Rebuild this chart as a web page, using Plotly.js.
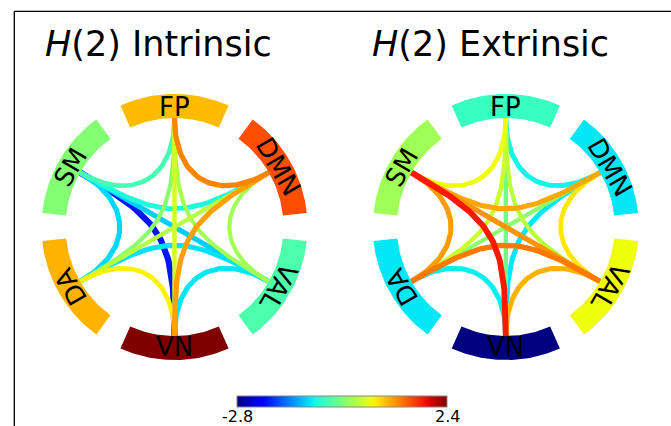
<!DOCTYPE html>
<html><head><meta charset="utf-8">
<script src="https://cdn.plot.ly/plotly-3.0.1.min.js"></script>
<style>html,body{margin:0;padding:0;background:#fff}</style>
</head><body><div id="chart" style="width:671px;height:426px"></div>
<script>
// ---------- data ----------
const nodes = ["FP", "DMN", "VAL", "VN", "DA", "SM"];
const panelNames = ["Intrinsic", "Extrinsic"];
const intrinsicNodeValues = [0.9, 1.5, -0.5, 2.4, 0.95, -0.15];
const extrinsicNodeValues = [-0.64, -0.97, 0.53, -2.8, -0.97, 0.03];
const edgeSource = [0, 0, 0, 0, 0, 1, 1, 1, 1, 2, 2, 2, 3, 3, 4];
const edgeTarget = [1, 2, 3, 4, 5, 2, 3, 4, 5, 3, 4, 5, 4, 5, 5];
const intrinsicEdgeValues = [1.2, 0.05, 0.35, -0.1, -0.55, 0.03, 1.05, 0.17, -0.8, -0.97, -1.0, -1.1, 0.6, -2.05, -1.05];
const extrinsicEdgeValues = [-0.89, 0.19, -0.27, 0.3, 0.53, 0.66, -0.97, -0.1, 1.0, 0.96, 1.27, 1.12, -0.93, 1.8, 1.07];
const colorMin = -2.8, colorMax = 2.4;
const colorbarTicks = [-2.8, 2.4];
const colorbarTickText = ["-2.8", "2.4"];

// ---------- jet colormap ----------
function interp(pts, t) {
  for (let i = 0; i < pts.length - 1; i++) {
    const [x0, y0] = pts[i], [x1, y1] = pts[i + 1];
    if (t <= x1) return y0 + (y1 - y0) * (t - x0) / (x1 - x0);
  }
  return pts[pts.length - 1][1];
}
function jetT(t) {
  t = Math.max(0, Math.min(1, t));
  const r = interp([[0, 0], [0.35, 0], [0.66, 1], [0.89, 1], [1, 0.5]], t);
  const g = interp([[0, 0], [0.125, 0], [0.375, 1], [0.64, 1], [0.91, 0], [1, 0]], t);
  const b = interp([[0, 0.5], [0.11, 1], [0.34, 1], [0.65, 0], [1, 0]], t);
  return `rgb(${Math.round(r * 255)},${Math.round(g * 255)},${Math.round(b * 255)})`;
}
const jet = v => jetT((v - colorMin) / (colorMax - colorMin));
const jetScale = [];
for (let i = 0; i <= 40; i++) jetScale.push([i / 40, jetT(i / 40)]);

// ---------- geometry ----------
const W = 671, H = 426;
const centers = [[174.5, 227], [505.8, 227]];
const titleX = [158, 490];
const R_IN = 109, R_OUT = 133, R_LABEL = 120, HALF_SPAN = 24;
const CB_LEFT = 237, CB_LEN = 210, CB_TOP = 396;
const nodeAngle = i => 90 - 60 * i;
const rad = d => d * Math.PI / 180;
const font = "DejaVu Sans, Verdana, sans-serif";

const traces = [];
const annotations = [];

function pt(c, r, a) { return [c[0] + r * Math.cos(rad(a)), c[1] - r * Math.sin(rad(a))]; }

function addPanel(p, nodeVals, edgeVals) {
  const c = centers[p];
  // chords, weakest first so the strongest are on top
  const order = edgeVals.map((v, i) => i).sort((a, b) => edgeVals[a] - edgeVals[b]);
  order.forEach(k => {
    const a0 = nodeAngle(edgeSource[k]), a1 = nodeAngle(edgeTarget[k]);
    let d = Math.abs(a0 - a1) % 360; if (d > 180) d = 360 - d;
    const f = Math.max(0, (0.335 * Math.cos(rad(d / 2)) - 0.125) / 0.375);
    const P0 = pt(c, R_IN, a0), P3 = pt(c, R_IN, a1);
    const P1 = pt(c, R_IN * f, a0), P2 = pt(c, R_IN * f, a1);
    const xs = [], ys = [];
    for (let s = 0; s <= 60; s++) {
      const t = s / 60, u = 1 - t;
      const b0 = u * u * u, b1 = 3 * u * u * t, b2 = 3 * u * t * t, b3 = t * t * t;
      xs.push(b0 * P0[0] + b1 * P1[0] + b2 * P2[0] + b3 * P3[0]);
      ys.push(b0 * P0[1] + b1 * P1[1] + b2 * P2[1] + b3 * P3[1]);
    }
    const v = edgeVals[k];
    traces.push({type: "scatter", mode: "lines", x: xs, y: ys, hoverinfo: "skip", showlegend: false,
      line: {color: jet(v), width: 4.1 + 1.0 * Math.abs(v)}});
  });
  // node arcs
  nodes.forEach((name, i) => {
    const a = nodeAngle(i);
    const xs = [], ys = [];
    for (let s = 0; s <= 40; s++) { const q = pt(c, R_OUT, a + HALF_SPAN - 2 * HALF_SPAN * s / 40); xs.push(q[0]); ys.push(q[1]); }
    for (let s = 0; s <= 40; s++) { const q = pt(c, R_IN, a - HALF_SPAN + 2 * HALF_SPAN * s / 40); xs.push(q[0]); ys.push(q[1]); }
    traces.push({type: "scatter", mode: "lines", x: xs, y: ys, fill: "toself", hoverinfo: "skip", showlegend: false,
      fillcolor: jet(nodeVals[i]), line: {width: 0, color: jet(nodeVals[i])}});
    let rot = ((90 - a) + 540) % 360 - 180;
    if (Math.abs(rot) === 180) rot = 0;
    const lp = pt(c, R_LABEL, a);
    annotations.push({x: lp[0], y: lp[1], xref: "x", yref: "y", text: name, showarrow: false,
      textangle: rot, xanchor: "center", yanchor: "middle", font: {family: font, size: 26, color: "#000"}});
  });
  annotations.push({x: titleX[p], y: 44, xref: "x", yref: "y", showarrow: false, xanchor: "center", yanchor: "middle",
    text: "<i>H</i>(2) " + panelNames[p], font: {family: font, size: 35, color: "#000"}});
}
addPanel(0, intrinsicNodeValues, intrinsicEdgeValues);
addPanel(1, extrinsicNodeValues, extrinsicEdgeValues);

// colorbar carrier
traces.push({type: "scatter", mode: "markers", x: [-50, -50], y: [-50, -50], hoverinfo: "skip", showlegend: false,
  marker: {color: [colorMin, colorMax], cmin: colorMin, cmax: colorMax, colorscale: jetScale, showscale: true, size: 1,
    colorbar: {orientation: "h", thickness: 11, thicknessmode: "pixels", len: CB_LEN, lenmode: "pixels",
      x: (CB_LEFT + CB_LEN / 2) / W, xanchor: "center", y: (H - CB_TOP) / H, yanchor: "top", xpad: 0, ypad: 0,
      outlinecolor: "#888", outlinewidth: 1, tickvals: colorbarTicks, ticks: "", showticklabels: false}}});
// colorbar tick labels placed at the tick values along the bar
colorbarTicks.forEach((tv, i) => {
  annotations.push({x: CB_LEFT + (tv - colorMin) / (colorMax - colorMin) * CB_LEN, y: 416.5, xref: "x", yref: "y",
    xanchor: "center", yanchor: "middle", showarrow: false, text: colorbarTickText[i], borderpad: 0,
    font: {family: font, size: 16, color: "#000"}});
});

const layout = {
  width: W, height: H, margin: {l: 0, r: 0, t: 0, b: 0}, paper_bgcolor: "#fff", plot_bgcolor: "#fff",
  xaxis: {range: [0, W], visible: false, fixedrange: true},
  yaxis: {range: [H, 0], visible: false, fixedrange: true},
  showlegend: false, annotations: annotations,
  shapes: [
    {type: "line", xref: "x", yref: "y", x0: 14.3, y0: 11.3, x1: W + 2, y1: 11.3, line: {color: "#000", width: 1.3}},
    {type: "line", xref: "x", yref: "y", x0: 14.3, y0: 11.3, x1: 14.3, y1: H + 2, line: {color: "#000", width: 1.3}}
  ]
};
Plotly.newPlot("chart", traces, layout, {staticPlot: true, displayModeBar: false});
</script></body></html>
